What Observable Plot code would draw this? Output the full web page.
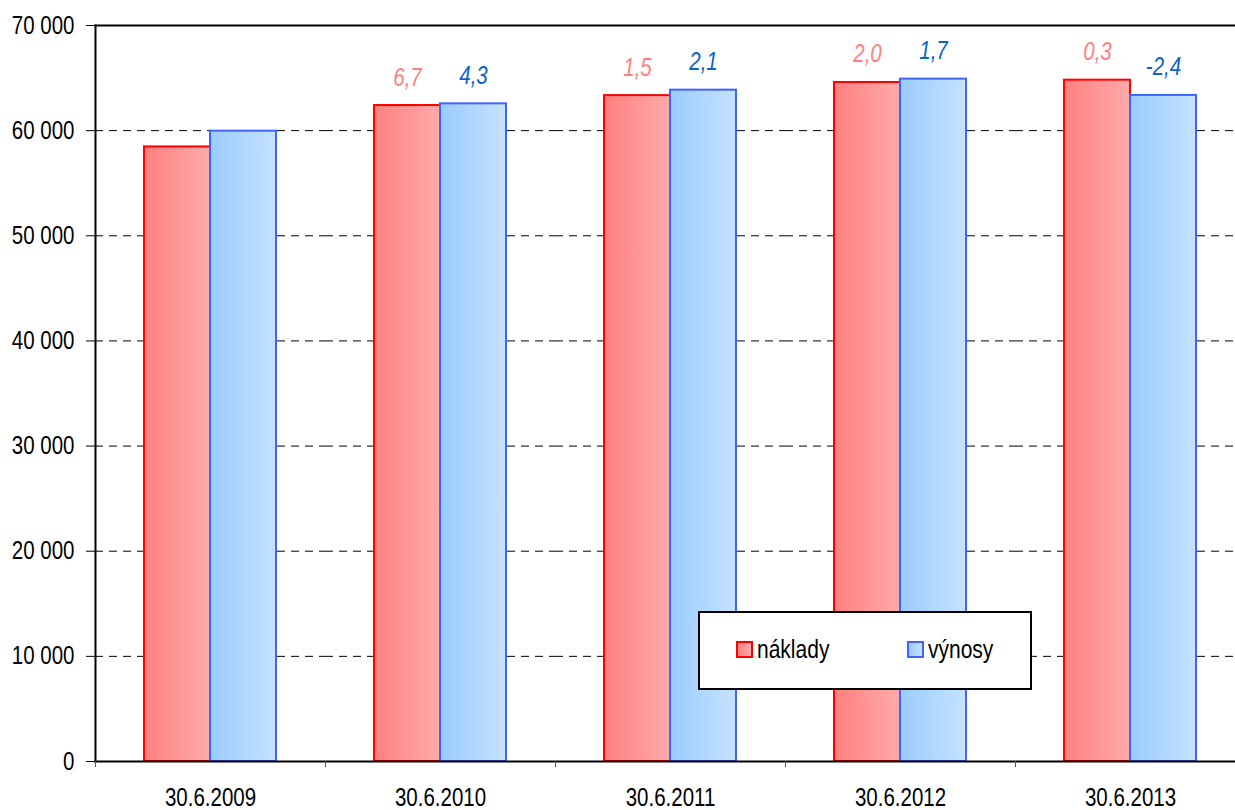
<!DOCTYPE html>
<html>
<head>
<meta charset="utf-8">
<script src="https://cdn.jsdelivr.net/npm/d3@7"></script>
<script src="https://cdn.jsdelivr.net/npm/@observablehq/plot@0.6"></script>
<style>
  html, body { margin: 0; padding: 0; background: #fff; overflow: hidden; }
  #wrap { position: relative; width: 1235px; height: 810px; overflow: hidden; }
  #chart svg { display: block; overflow: hidden; max-width: none !important; width: 1245px; height: 810px !important; }
  .legend {
    position: absolute; left: 698px; top: 611px; width: 330px; height: 75px;
    border: 2px solid #000; background: #fff;
    font-family: "Liberation Sans", Arial, sans-serif;
    font-size: 25px; color: #000;
  }
  .legend .item { position: absolute; top: 22px; display: flex; align-items: center; }
  .legend .sw { width: 13px; height: 13px; border: 2px solid; margin-right: 4px; }
  .legend .lbl { display: inline-block; transform: scaleX(0.84); transform-origin: 0 50%; }
</style>
</head>
<body>
<div id="wrap">
  <div id="chart"></div>
</div>
<script>
// ---- data ----
const dates = ["30.6.2009", "30.6.2010", "30.6.2011", "30.6.2012", "30.6.2013"];
const seriesNames = ["náklady", "výnosy"];
const naklady = [58450, 62390, 63330, 64580, 64800];
const vynosy = [59950, 62550, 63850, 64900, 63350];
const nakladyIndex = [null, "6,7", "1,5", "2,0", "0,3"];
const vynosyIndex = [null, "4,3", "2,1", "1,7", "-2,4"];
const yTicks = [0, 10000, 20000, 30000, 40000, 50000, 60000, 70000];
const gridTicks = [10000, 20000, 30000, 40000, 50000, 60000];

// ---- styles ----
const FONT = '"Liberation Sans", Arial, sans-serif';
const NARROW = 0.82; // horizontal condensing to mimic Arial Narrow
const RED_STROKE = "#ff0000", BLUE_STROKE = "#3f63ff";
const RED_LABEL = "#ff8080", BLUE_LABEL = "#0a64c8";

const rowsN = dates.map((d, i) => ({date: d, series: seriesNames[0], value: naklady[i], label: nakladyIndex[i]}));
const rowsV = dates.map((d, i) => ({date: d, series: seriesNames[1], value: vynosy[i], label: vynosyIndex[i]}));

const W = 1245, H = 810, mL = 95, mR = 0, mT = 25, mB = 49;
const fxStep = (W - mL - mR) / dates.length;

const plot = Plot.plot({
  width: W, height: H,
  marginLeft: mL, marginRight: mR, marginTop: mT, marginBottom: mB,
  style: {fontFamily: FONT, fontSize: "25px", color: "#000", background: "#fff"},
  fx: {domain: dates, paddingInner: 0, paddingOuter: 0, label: null, axis: null},
  x: {domain: seriesNames, paddingInner: 0, paddingOuter: 0.742, axis: null},
  y: {domain: [0, 70000], axis: null},
  marks: [
    Plot.ruleY(gridTicks, {stroke: "#000", strokeWidth: 1, strokeDasharray: "8,6"}),
    Plot.barY(rowsN, {fx: "date", x: "series", y: "value", fill: "url(#gradN)", stroke: RED_STROKE, strokeWidth: 2}),
    Plot.barY(rowsV, {fx: "date", x: "series", y: "value", fill: "url(#gradV)", stroke: BLUE_STROKE, strokeWidth: 2}),
    Plot.text(rowsN.filter(d => d.label), {fx: "date", x: "series", y: "value", text: "label", dy: -20, lineAnchor: "bottom", fontStyle: "italic", fontSize: 25, fill: RED_LABEL}),
    Plot.text(rowsV.filter(d => d.label), {fx: "date", x: "series", y: "value", text: "label", dy: -20, lineAnchor: "bottom", fontStyle: "italic", fontSize: 25, fill: BLUE_LABEL}),
    Plot.frame({anchor: "left", facet: "super", stroke: "#000", strokeWidth: 2}),
    Plot.frame({anchor: "top", facet: "super", stroke: "#000", strokeWidth: 2}),
    Plot.frame({anchor: "bottom", facet: "super", stroke: "#000", strokeWidth: 2}),
    Plot.axisY({ticks: yTicks, tickSize: 9, tickPadding: 12, fontSize: 25, label: null,
      tickFormat: v => d3.format(",")(v).replace(/,/g, " ")}),
    Plot.axisFx({anchor: "bottom", tickSize: 0, tickPadding: 27, fontSize: 25, label: null}),
    Plot.axisFx({anchor: "bottom", tickSize: 6, tickFormat: () => "", dx: -fxStep / 2, label: null, stroke: "#555"})
  ]
});

// condense all text horizontally around its anchor (Arial Narrow look)
plot.querySelectorAll("text").forEach(t => {
  const tr = t.getAttribute("transform") || "";
  t.setAttribute("transform", tr + ` scale(${NARROW},1)`);
});

// gradients for bar fills
const svgNS = "http://www.w3.org/2000/svg";
const defs = document.createElementNS(svgNS, "defs");
function grad(id, c1, c2) {
  const g = document.createElementNS(svgNS, "linearGradient");
  g.setAttribute("id", id);
  g.setAttribute("x1", "0"); g.setAttribute("x2", "1"); g.setAttribute("y1", "0"); g.setAttribute("y2", "0");
  [[0, c1], [1, c2]].forEach(([o, c]) => {
    const s = document.createElementNS(svgNS, "stop");
    s.setAttribute("offset", o); s.setAttribute("stop-color", c);
    g.appendChild(s);
  });
  defs.appendChild(g);
}
grad("gradN", "#ff8080", "#ffaaaa");
grad("gradV", "#99ccff", "#c6e2ff");
plot.insertBefore(defs, plot.firstChild);
document.getElementById("chart").appendChild(plot);

// legend
const legend = document.createElement("div");
legend.className = "legend";
[[seriesNames[0], RED_STROKE, "linear-gradient(to right, #ff8080, #ffaaaa)", 36],
 [seriesNames[1], BLUE_STROKE, "linear-gradient(to right, #99ccff, #c6e2ff)", 207]].forEach(([name, stroke, bg, left]) => {
  const item = document.createElement("div");
  item.className = "item";
  item.style.left = left + "px";
  const sw = document.createElement("div");
  sw.className = "sw";
  sw.style.borderColor = stroke;
  sw.style.background = bg;
  const t = document.createElement("span");
  t.className = "lbl";
  t.textContent = name;
  item.appendChild(sw); item.appendChild(t);
  legend.appendChild(item);
});
document.getElementById("wrap").appendChild(legend);
</script>
</body>
</html>
